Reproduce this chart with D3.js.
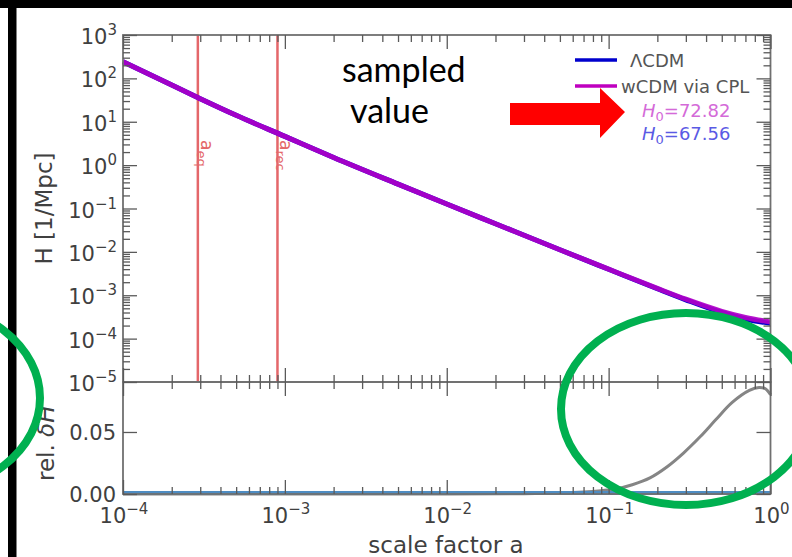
<!DOCTYPE html>
<html>
<head>
<meta charset="utf-8">
<script src="https://cdn.jsdelivr.net/npm/d3@7"></script>
<style>
  body { margin: 0; background: #fff; }
  svg { display: block; }
</style>
</head>
<body>
<script>
// waarden
var schaalFactor = [1e-4, 2e-4, 3e-4, 5e-4, 1e-3, 2e-3, 5e-3, 1e-2, 2e-2, 5e-2, 0.1, 0.2, 0.3, 0.5, 0.7, 1.0];
var hubbleWCDM = [243, 70, 34, 14.1, 4.6, 1.5, 0.365, 0.127, 0.0446, 0.0112, 3.99e-3, 1.44e-3, 8.1e-4, 4.26e-4, 3.08e-4, 2.43e-4];
var hubbleLCDM = [243, 70, 34, 14.1, 4.6, 1.5, 0.365, 0.127, 0.0446, 0.0112, 3.97e-3, 1.41e-3, 7.85e-4, 4.0e-4, 2.84e-4, 2.25e-4];

var schaalRel = [1e-4, 1e-2, 0.03, 0.05, 0.07, 0.09, 0.11, 0.14, 0.18, 0.23, 0.29, 0.37, 0.46, 0.58, 0.74, 0.85, 0.93, 1.0];
var relDeltaH = [0, 0, 0.0003, 0.0008, 0.0016, 0.0027, 0.004, 0.0075, 0.013, 0.022, 0.033, 0.0465, 0.060, 0.0738, 0.0835, 0.0859, 0.0848, 0.080];

var markeringen = [2.9e-4, 9.0e-4];
var markeringLabels = ["eq", "rec"];

var xExponenten = [-4, -3, -2, -1, 0];
var yExponenten = [3, 2, 1, 0, -1, -2, -3, -4, -5];
var relTicks = [0, 0.05];
var relTickLabels = ["0.00", "0.05"];

var legendaNamen = ["\u039BCDM", "wCDM via CPL"];
var legendaKleuren = ["#0000cd", "#bf00bf"];
var hubbleNul = ["72.82", "67.56"];
var hubbleNulKleuren = ["#d46ad8", "#5a5ae4"];

// afmetingen
var breedte = 792, hoogte = 557;
var links = 123, rechts = 770.5, boven = 35, midden = 382, beneden = 494;

var svg = d3.select("body").append("svg")
    .attr("width", breedte)
    .attr("height", hoogte);

var x = d3.scaleLog().domain([1e-4, 1]).range([links, rechts]);
var yBoven = d3.scaleLog().domain([1e-5, 1e3]).range([midden, boven]);
var yRel = d3.scaleLinear().domain([0, 0.0903]).range([beneden, midden]);

// kleine tickjes per decade
var xMinor = [];
xExponenten.slice(0, -1).forEach(function(e) {
  for (var m = 2; m <= 9; m++) xMinor.push(m * Math.pow(10, e));
});
var yMinor = [];
yExponenten.slice(1).forEach(function(e) {
  for (var m = 2; m <= 9; m++) yMinor.push(m * Math.pow(10, e));
});
var xMajor = xExponenten.map(function(e) { return Math.pow(10, e); });
var yMajor = yExponenten.map(function(e) { return Math.pow(10, e); });

var tickKleur = "#5a5a5a";

function tickjes(as, waarden, lengte, transform) {
  var g = svg.append("g")
      .attr("transform", transform)
      .call(as.tickValues(waarden).tickSize(-lengte).tickFormat(""));
  g.select(".domain").remove();
  g.selectAll("line").attr("stroke", tickKleur).attr("stroke-width", 1.3);
}

// bovenste paneel: vertikale markeringen
svg.selectAll(".markering")
  .data(markeringen)
  .enter().append("line")
  .attr("x1", function(d) { return x(d); })
  .attr("x2", function(d) { return x(d); })
  .attr("y1", boven).attr("y2", midden)
  .attr("stroke", "#e4676a")
  .attr("stroke-width", 2.5);

markeringen.forEach(function(d, i) {
  var t = svg.append("text")
      .attr("transform", "translate(" + (x(d) + 3) + ",140) rotate(90)")
      .attr("font-family", "DejaVu Sans")
      .attr("font-size", 17)
      .attr("fill", "#e4676a");
  t.append("tspan").text("a");
  t.append("tspan").attr("font-size", 13).attr("dy", 4).text(markeringLabels[i]);
});

// lijnen
var lijn = d3.line()
    .x(function(d) { return x(d[0]); })
    .y(function(d) { return yBoven(d[1]); })
    .curve(d3.curveMonotoneX);

svg.append("path")
   .attr("d", lijn(d3.zip(schaalFactor, hubbleLCDM)))
   .attr("fill", "none")
   .attr("stroke", "#0000cd")
   .attr("stroke-width", 5);

svg.append("path")
   .attr("d", lijn(d3.zip(schaalFactor, hubbleWCDM)))
   .attr("fill", "none")
   .attr("stroke", "#b000c8")
   .attr("stroke-width", 5)
   .attr("opacity", 0.92);

// onderste paneel
var relLijn = d3.line()
    .x(function(d) { return x(d[0]); })
    .y(function(d) { return yRel(d[1]); })
    .curve(d3.curveCatmullRom.alpha(0.5));

svg.append("path")
   .attr("d", relLijn(d3.zip(schaalRel, relDeltaH)))
   .attr("fill", "none")
   .attr("stroke", "#858585")
   .attr("stroke-width", 3);

svg.append("line")
   .attr("x1", x(1e-4)).attr("x2", x(1))
   .attr("y1", yRel(0) - 1).attr("y2", yRel(0) - 1)
   .attr("stroke", "#4e8cc2")
   .attr("stroke-width", 4);

// kaders
svg.append("rect")
   .attr("x", links).attr("y", boven)
   .attr("width", rechts - links).attr("height", midden - boven)
   .attr("fill", "none").attr("stroke", "#707070").attr("stroke-width", 1.8);
svg.append("rect")
   .attr("x", links).attr("y", midden)
   .attr("width", rechts - links).attr("height", beneden - midden)
   .attr("fill", "none").attr("stroke", "#707070").attr("stroke-width", 1.8);

// tickjes bovenste paneel
tickjes(d3.axisTop(x), xMajor, 14, "translate(0," + boven + ")");
tickjes(d3.axisTop(x), xMinor, 7, "translate(0," + boven + ")");
tickjes(d3.axisBottom(x), xMajor, 14, "translate(0," + midden + ")");
tickjes(d3.axisBottom(x), xMinor, 7, "translate(0," + midden + ")");
tickjes(d3.axisLeft(yBoven), yMajor, 14, "translate(" + links + ",0)");
tickjes(d3.axisLeft(yBoven), yMinor, 7, "translate(" + links + ",0)");
tickjes(d3.axisRight(yBoven), yMajor, 14, "translate(" + rechts + ",0)");
tickjes(d3.axisRight(yBoven), yMinor, 7, "translate(" + rechts + ",0)");

// tickjes onderste paneel
tickjes(d3.axisTop(x), xMajor, 14, "translate(0," + midden + ")");
tickjes(d3.axisTop(x), xMinor, 7, "translate(0," + midden + ")");
tickjes(d3.axisBottom(x), xMajor, 14, "translate(0," + beneden + ")");
tickjes(d3.axisBottom(x), xMinor, 7, "translate(0," + beneden + ")");
tickjes(d3.axisLeft(yRel), relTicks, 14, "translate(" + links + ",0)");
tickjes(d3.axisRight(yRel), relTicks, 14, "translate(" + rechts + ",0)");

// tick labels
var tekstKleur = "#404040";
function machtLabel(px, py, exp, anker) {
  var t = svg.append("text")
      .attr("x", px).attr("y", py)
      .attr("text-anchor", anker)
      .attr("font-family", "DejaVu Sans")
      .attr("font-size", 21)
      .attr("fill", tekstKleur);
  t.append("tspan").text("10");
  t.append("tspan").attr("font-size", 15).attr("dy", -9)
   .text(exp < 0 ? "\u2212" + (-exp) : String(exp));
}

yExponenten.forEach(function(e) {
  machtLabel(links - 6, yBoven(Math.pow(10, e)) + 9, e, "end");
});
xExponenten.forEach(function(e) {
  machtLabel(x(Math.pow(10, e)) + 1, beneden + 29, e, "middle");
});

svg.selectAll(".relLabel")
  .data(relTicks)
  .enter().append("text")
  .attr("x", links - 7)
  .attr("y", function(d) { return yRel(d) + 8; })
  .attr("text-anchor", "end")
  .attr("font-family", "DejaVu Sans")
  .attr("font-size", 21)
  .attr("fill", tekstKleur)
  .text(function(d, i) { return relTickLabels[i]; });

// as titels
svg.append("text")
   .attr("x", 446).attr("y", 553)
   .attr("text-anchor", "middle")
   .attr("font-family", "DejaVu Sans")
   .attr("font-size", 23)
   .attr("fill", tekstKleur)
   .text("scale factor a");

svg.append("text")
   .attr("transform", "translate(52," + ((boven + midden) / 2) + ") rotate(-90)")
   .attr("text-anchor", "middle")
   .attr("font-family", "DejaVu Sans")
   .attr("font-size", 23)
   .attr("fill", tekstKleur)
   .text("H [1/Mpc]");

var relTitel = svg.append("text")
   .attr("transform", "translate(54,481) rotate(-90)")
   .attr("text-anchor", "start")
   .attr("font-family", "DejaVu Sans")
   .attr("font-size", 23)
   .attr("fill", tekstKleur);
relTitel.append("tspan").text("rel. ");
relTitel.append("tspan").attr("font-style", "italic").text("\u03B4H");

// legenda
var legenda = svg.append("g").attr("class", "legend");
legenda.selectAll("line")
  .data(legendaNamen)
  .enter().append("line")
  .attr("x1", 575).attr("x2", 617)
  .attr("y1", function(d, i) { return 60 + i * 26; })
  .attr("y2", function(d, i) { return 60 + i * 26; })
  .attr("stroke", function(d, i) { return legendaKleuren[i]; })
  .attr("stroke-width", 3.5);
legenda.selectAll("text")
  .data(legendaNamen)
  .enter().append("text")
  .attr("x", function(d, i) { return i === 0 ? 630 : 621; })
  .attr("y", function(d, i) { return 67 + i * 26; })
  .attr("font-family", "DejaVu Sans")
  .attr("font-size", 18)
  .attr("fill", "#555")
  .text(function(d) { return d; });

hubbleNul.forEach(function(d, i) {
  var t = svg.append("text")
      .attr("x", 642).attr("y", 117 + i * 23)
      .attr("font-family", "DejaVu Sans")
      .attr("font-size", 18)
      .attr("fill", hubbleNulKleuren[i]);
  t.append("tspan").attr("font-style", "italic").text("H");
  t.append("tspan").attr("font-size", 13).attr("dy", 4).text("0");
  t.append("tspan").attr("dy", -4).text("=" + d);
});

// annotaties van de dia
svg.append("text")
   .attr("x", 342).attr("y", 82)
   .attr("font-family", "Lato")
   .attr("font-size", 34)
   .attr("fill", "#000")
   .text("sampled");
svg.append("text")
   .attr("x", 350).attr("y", 123)
   .attr("font-family", "Lato")
   .attr("font-size", 34)
   .attr("fill", "#000")
   .text("value");

svg.append("path")
   .attr("d", "M510,103 L600,103 L600,88 L625,112 L600,138 L600,125 L510,125 Z")
   .attr("fill", "#ff0000");

svg.append("rect").attr("x", 0).attr("y", 0).attr("width", breedte).attr("height", 8).attr("fill", "#000");
svg.append("rect").attr("x", 8).attr("y", 0).attr("width", 8.5).attr("height", hoogte).attr("fill", "#000");

svg.append("ellipse")
   .attr("cx", 686).attr("cy", 409).attr("rx", 125).attr("ry", 96)
   .attr("fill", "none").attr("stroke", "#00b050").attr("stroke-width", 8);
svg.append("ellipse")
   .attr("cx", -85).attr("cy", 398).attr("rx", 125).attr("ry", 96)
   .attr("fill", "none").attr("stroke", "#00b050").attr("stroke-width", 8);
</script>
</body>
</html>
